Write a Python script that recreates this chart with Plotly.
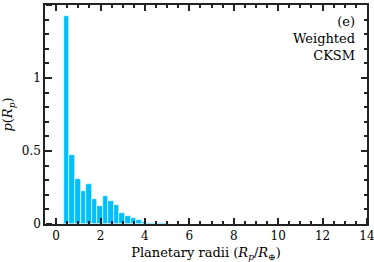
import plotly.graph_objects as go

bin_left = [0.35 + 0.25 * i for i in range(40)]
bin_width = 0.25
density = [1.425, 0.470, 0.310, 0.226, 0.276, 0.174, 0.123, 0.194, 0.155, 0.128,
           0.075, 0.057, 0.044, 0.025, 0.012, 0.008, 0.008, 0.005, 0.006, 0.003,
           0.003, 0.002, 0.002, 0.001, 0.001, 0.001, 0.002, 0.001, 0.001, 0.001,
           0.001, 0.001, 0.001, 0.001, 0.001, 0.001, 0.001, 0.001, 0.001, 0.001]
x_ticks = list(range(0, 15, 2))
x_minor = [v * 0.5 for v in range(0, 29) if v % 4]
y_ticks = [0, 0.5, 1, 1.5]
y_labels = ["0", "0.5", "1", "1.5"]
y_minor = [v / 10 for v in range(0, 16) if v % 5]
annot_lines = ["(e)", "Weighted", "CKSM"]

FONT = "DejaVu Serif, Liberation Serif, serif"
centers = [b + bin_width / 2 for b in bin_left]
X_RANGE = [-0.5, 14]
Y_RANGE = [0, 1.5]
TC = "#222"

fig = go.Figure()
fig.add_trace(go.Bar(
    x=centers, y=density, width=[bin_width] * len(centers),
    marker=dict(color="#00BFFF", line=dict(color="white", width=0.6)),
))
# invisible copy on secondary axes, so that their ticks are drawn
fig.add_trace(go.Bar(x=centers, y=density, width=[bin_width] * len(centers),
                     xaxis="x2", yaxis="y2", opacity=0, hoverinfo="skip",
                     marker=dict(color="rgba(0,0,0,0)")))

def minor(vals, where):
    return dict(tickmode="array", tickvals=vals, ticks=where, ticklen=3,
                tickwidth=1.5, tickcolor=TC)

common = dict(ticklen=6, tickwidth=1.5, tickcolor=TC, showgrid=False, zeroline=False)
fig.update_layout(
    xaxis=dict(range=X_RANGE, tickmode="array", tickvals=x_ticks, ticktext=[str(v) for v in x_ticks],
               ticks="inside", mirror="ticks", minor=minor(x_minor, "inside"),
               showline=True, linecolor=TC, linewidth=1.5,
               tickfont=dict(family=FONT, size=12, color="black"), ticklabeloverflow="allow",
               title=dict(text="Planetary radii (<i>R</i><sub><i>p</i></sub>/<i>R</i><sub>⊕</sub>)",
                          font=dict(family=FONT, size=13, color="black"), standoff=6),
               **common),
    yaxis=dict(range=Y_RANGE, tickmode="array", tickvals=y_ticks, ticktext=y_labels,
               ticks="inside", mirror="ticks", minor=minor(y_minor, "inside"),
               showline=True, linecolor=TC, linewidth=1.5,
               tickfont=dict(family=FONT, size=12, color="black"),
               title=dict(text="<i>p</i>(<i>R</i><sub><i>p</i></sub>)",
                          font=dict(family=FONT, size=13, color="black"), standoff=6),
               **common),
    # axes placed on the bottom / left edges, facing inward, with outside ticks
    xaxis2=dict(range=X_RANGE, overlaying="x", side="top", anchor="free", position=0,
                showticklabels=False, tickmode="array", tickvals=x_ticks, ticks="outside",
                minor=minor(x_minor, "outside"), showline=False, **common),
    yaxis2=dict(range=Y_RANGE, overlaying="y", side="right", anchor="free", position=0,
                showticklabels=False, tickmode="array", tickvals=y_ticks, ticks="outside",
                minor=minor(y_minor, "outside"), showline=False, **common),
)

fig.add_annotation(
    text="<br>".join(annot_lines), xref="paper", yref="paper", x=0.97, y=0.97,
    xanchor="right", yanchor="top", align="right", showarrow=False,
    font=dict(family=FONT, size=13, color="black"),
)

fig.update_layout(
    width=374, height=262, margin=dict(l=45, r=7, t=5, b=38, autoexpand=False),
    paper_bgcolor="white", plot_bgcolor="white", showlegend=False, bargap=0,
)
fig.write_html("out.html", config={"displayModeBar": False},
               post_script="document.body.style.margin='0';document.body.style.overflow='hidden';")
